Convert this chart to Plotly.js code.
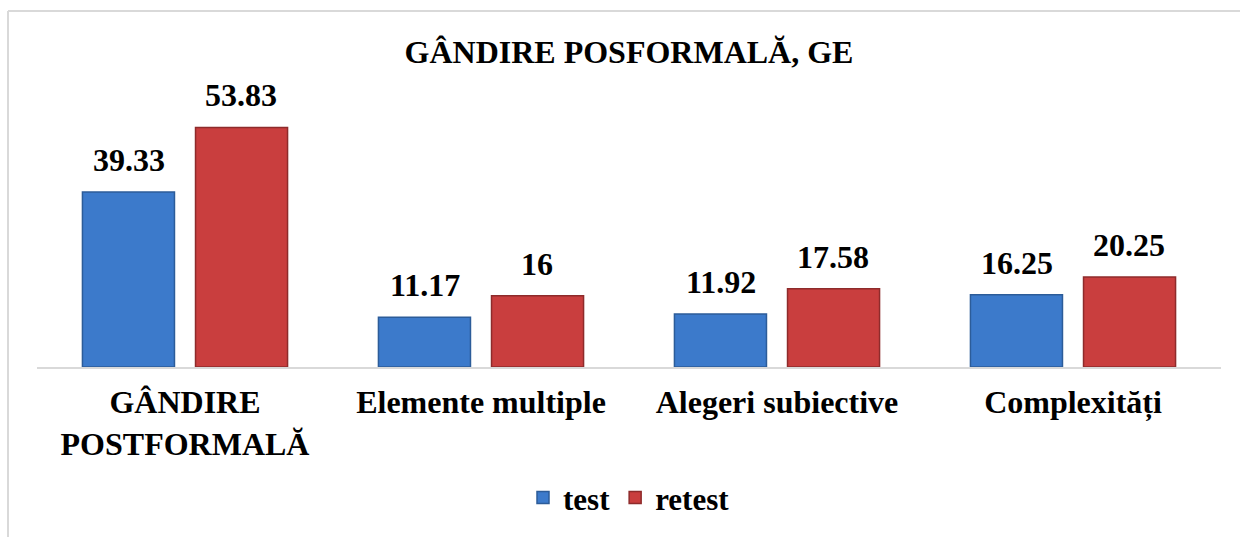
<!DOCTYPE html>
<html>
<head>
<meta charset="utf-8">
<script src="https://cdn.plot.ly/plotly-3.0.1.min.js"></script>
</head>
<body style="margin:0">
<div id="chart" style="width:1240px;height:537px"></div>
<script>
const categories = ["GÂNDIRE<br>POSTFORMALĂ", "Elemente multiple", "Alegeri subiective", "Complexități"];
const testValues = [39.33, 11.17, 11.92, 16.25];
const retestValues = [53.83, 16, 17.58, 20.25];
const testLabels = ["39.33", "11.17", "11.92", "16.25"];
const retestLabels = ["53.83", "16", "17.58", "20.25"];
const seriesNames = ["test", "retest"];
const chartTitle = "GÂNDIRE POSFORMALĂ, GE";

const serifFamily = "Liberation Serif";

const traces = [
  {
    type: "bar", name: seriesNames[0], x: categories, y: testValues,
    marker: { color: "#3c7acb", line: { color: "#2c5c99", width: 1.5 } },
    hoverinfo: "skip"
  },
  {
    type: "bar", name: seriesNames[1], x: categories, y: retestValues,
    marker: { color: "#c93e3e", line: { color: "#8e2b2b", width: 1.5 } },
    hoverinfo: "skip"
  }
];

const annotations = [];
categories.forEach((c, i) => {
  annotations.push({ x: c, y: testValues[i], text: "<b>" + testLabels[i] + "</b>", showarrow: false,
    xref: "x", yref: "y", xshift: -56, yshift: 12, yanchor: "bottom",
    font: { family: serifFamily, size: 32, color: "#000000" } });
  annotations.push({ x: c, y: retestValues[i], text: "<b>" + retestLabels[i] + "</b>", showarrow: false,
    xref: "x", yref: "y", xshift: 56, yshift: 12, yanchor: "bottom",
    font: { family: serifFamily, size: 32, color: "#000000" } });
});

const layout = {
  width: 1240, height: 537,
  margin: { l: 37, r: 19, t: 100, b: 167 },
  paper_bgcolor: "#ffffff", plot_bgcolor: "#ffffff",
  font: { family: serifFamily, color: "#000000" },
  title: { text: "<b>" + chartTitle + "</b>", x: 0.5, xref: "paper", y: 1 - 52/537, yref: "container",
           yanchor: "middle", font: { family: serifFamily, size: 32, color: "#000000" } },
  barmode: "group", bargap: 0.236, bargroupgap: 0.186,
  xaxis: { showline: true, linecolor: "#d9d9d9", linewidth: 2, showgrid: false, zeroline: false,
           ticks: "", tickfont: { family: serifFamily, size: 32, color: "#000000", weight: "bold" },
           ticklabelstandoff: 6 },
  yaxis: { range: [0, 60], visible: false, showgrid: false, zeroline: false },
  showlegend: true,
  legend: { orientation: "h", x: 0.5, xanchor: "center", xref: "paper", y: -0.49, yanchor: "middle",
            font: { family: serifFamily, size: 31, color: "#000000", weight: "bold" }, itemwidth: 30, traceorder: "normal" },
  shapes: [
    { type: "line", xref: "paper", yref: "paper", x0: -0.0245, x1: -0.0245, y0: 1.333, y1: -0.8,
      line: { color: "#d9d9d9", width: 2 } },
    { type: "line", xref: "paper", yref: "paper", x0: -0.0245, x1: 1.05, y0: 1.333, y1: 1.333,
      line: { color: "#d9d9d9", width: 2 } }
  ],
  annotations: annotations
};

Plotly.newPlot("chart", traces, layout, { displayModeBar: false });
</script>
</body>
</html>
